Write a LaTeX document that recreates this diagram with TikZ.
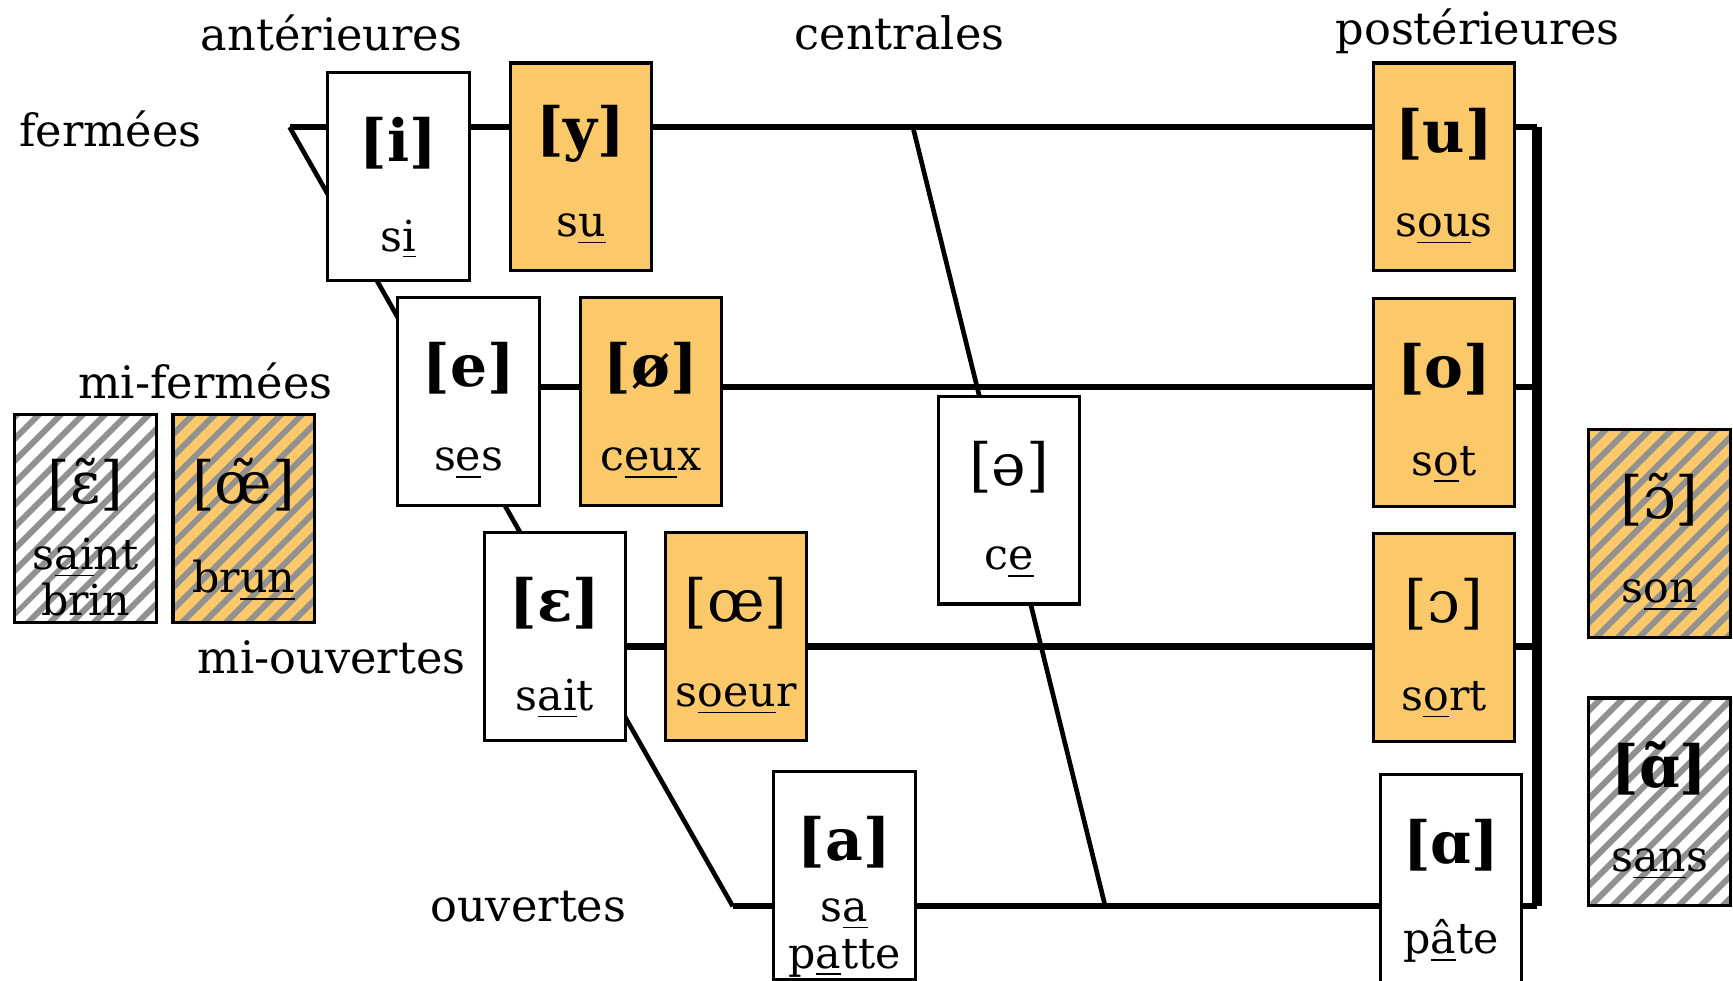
\documentclass[tikz,border=0pt]{standalone}
\usepackage{fontspec}
\setmainfont{DejaVu Serif}
\usepackage{xcolor}
\usepackage{tikz}
\usetikzlibrary{positioning, patterns.meta}
\definecolor{orng}{RGB}{251,201,106}
\definecolor{hatchgray}{RGB}{145,145,145}

\begin{document}
\begin{tikzpicture}[node distance=2.13cm, every node/.style={font=\fontsize{11}{12}\selectfont}]
    \tikzstyle{vbox} = [rectangle, draw, line width=0.8pt, minimum width=1.28cm, minimum height=1.88cm, inner sep=0pt]
    \tikzstyle{vowel} = [vbox, fill=white]
    \tikzstyle{rvowel} = [vbox, fill=orng]
    \tikzstyle{hatched} = [pattern={Lines[angle=45, distance=4pt, line width=1.6pt]}, pattern color=hatchgray]
    \tikzstyle{nvowel} = [vbox, preaction={fill=white}, hatched]
    \tikzstyle{nrvowel} = [vbox, preaction={fill=orng}, hatched]
    \tikzstyle{lbl} = [font=\fontsize{11.5}{13}\selectfont]
    \tikzstyle{ipa} = [font=\fontsize{15}{17}\selectfont\bfseries]
    \tikzstyle{word} = [align=center, font=\fontsize{11}{12}\selectfont]

    \useasboundingbox (0,0) rectangle (15.68,-8.87);
    \clip (0,0) rectangle (15.68,-8.87);

    % corners of the trapezium
    \coordinate (tl) at (2.62,-1.15);
    \coordinate (tr) at (13.91,-1.15);
    \coordinate (ml) at (3.96,-3.50);
    \coordinate (mr) at (13.91,-3.50);
    \coordinate (ol) at (5.30,-5.85);
    \coordinate (or) at (13.91,-5.85);
    \coordinate (bl) at (6.63,-8.20);
    \coordinate (br) at (13.91,-8.20);
    \coordinate (ct) at (8.26,-1.15);
    \coordinate (cb) at (10.00,-8.20);

    \draw [line width=1.5pt] (tl) -- (tr);
    \draw [line width=1.5pt] (ml) -- (mr);
    \draw [line width=2pt] (ol) -- (or);
    \draw [line width=1.5pt] (bl) -- (br);
    \draw [line width=1.2pt] (tl) -- (bl);
    \draw [line width=1.2pt] (ct) -- (cb);
    \draw [line width=2.6pt] (tr) -- (br);

    % vowels
    \node [vowel] (i) at (3.605,-1.60) {};
    \node [rvowel] (y) at (5.255,-1.51) {};
    \node [vowel, below of=i, xshift=0.635cm, yshift=0.1cm] (e) {};
    \node [rvowel, right of=e, xshift=-0.48cm] (eo) {};
    \node [vowel, below of=e, xshift=0.78cm] (E) {};
    \node [rvowel, right of=E, xshift=-0.49cm] (oe) {};
    \node [vowel] (a) at (7.64,-7.92) {};
    \node [vowel] (sch) at (9.13,-4.525) {};
    \node [rvowel] (u) at (13.065,-1.51) {};
    \node [rvowel, below of=u] (o) {};
    \node [rvowel, below of=o] (O) {};
    \node [vowel, below of=O, xshift=0.065cm, yshift=-0.05cm] (A) {};
    \node [nvowel] (En) at (0.775,-4.69) {};
    \node [nrvowel, right of=En, xshift=-0.70cm] (oen) {};
    \node [nrvowel] (On) at (15.015,-4.825) {};
    \node [nvowel, below of=On, yshift=-0.30cm] (An) {};

    \foreach \n/\s/\w in {i/{[i]}/{s\underline{i}}, y/{[y]}/{s\underline{u}},
        e/{[e]}/{s\underline{e}s}, eo/{[ø]}/{c\underline{eu}x},
        E/{[ɛ]}/{s\underline{ai}t}, oe/{\mdseries[œ]}/{s\underline{oeu}r},
        a/{[a]}/{s\underline{a}\\p\underline{a}tte}, sch/{\mdseries[ə]}/{c\underline{e}},
        u/{[u]}/{s\underline{ou}s}, o/{[o]}/{s\underline{o}t},
        O/{\mdseries[ɔ]}/{s\underline{o}rt}, A/{[ɑ]}/{p\underline{â}te},
        En/{\mdseries[ɛ̃]}/{s\underline{ai}nt\\br\underline{in}}, oen/{\mdseries[œ̃]}/{br\underline{un}},
        On/{\mdseries[ɔ̃]}/{s\underline{on}}, An/{[ɑ̃]}/{s\underline{an}s}} {
        \node [ipa] (\n-s) at ([yshift=0.30cm]\n.center) {\s};
        \node [word] (\n-w) at ([yshift=-0.565cm]\n.center) {\w};
    }

    % labels
    \node [lbl] (ant) at (3.00,-0.30) {antérieures};
    \node [lbl] (cen) at (8.14,-0.30) {centrales};
    \node [lbl] (post) at (13.37,-0.28) {postérieures};
    \node [lbl] (fer) at (1.00,-1.17) {fermées};
    \node [lbl] (mfer) at (1.86,-3.45) {mi-fermées};
    \node [lbl] (mouv) at (3.00,-5.95) {mi-ouvertes};
    \node [lbl] (ouv) at (4.78,-8.20) {ouvertes};
\end{tikzpicture}
\end{document}
